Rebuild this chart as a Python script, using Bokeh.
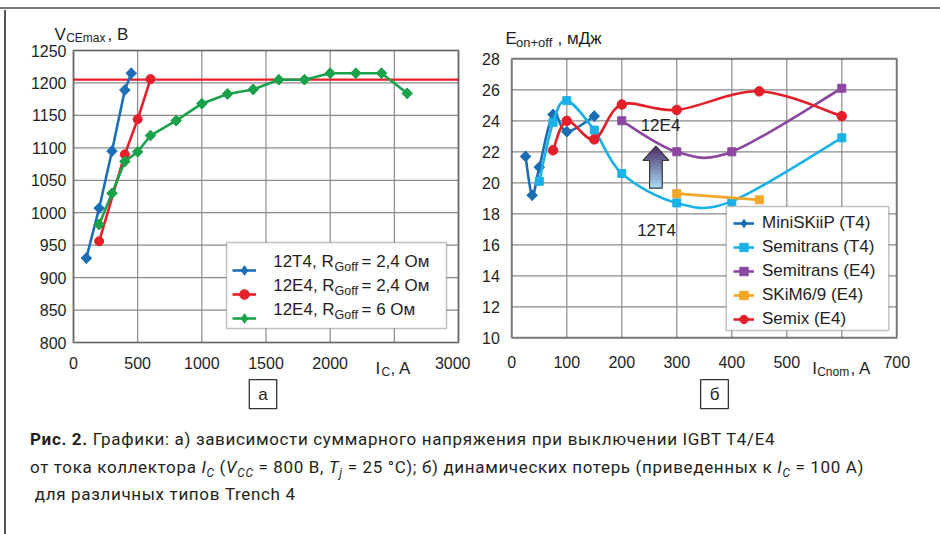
import numpy as np
from bokeh.plotting import figure
from bokeh.models import (Range1d, Label, Legend, LegendItem, Div, LinearAxis,
                          FixedTicker, BoxAnnotation)
from bokeh.layouts import row, column
from bokeh.embed import file_html
from bokeh.resources import INLINE

# ---------------- data: chart a ----------------
ic_12t4 = [100, 200, 300, 400, 450]
v_12t4 = [930, 1007, 1095, 1189, 1215]
ic_12e4_24 = [200, 400, 500, 600]
v_12e4_24 = [956, 1090, 1144, 1206]
ic_12e4_6 = [200, 300, 400, 500, 600, 800, 1000, 1200, 1400, 1600, 1800, 2000, 2200, 2400, 2600]
v_12e4_6 = [982, 1030, 1079, 1094, 1119, 1142, 1168, 1183, 1190, 1205, 1205, 1215, 1215, 1215, 1184]
v_limit = 1205
a_x_ticks = [0, 500, 1000, 1500, 2000, 2500, 3000]
a_y_ticks = [800, 850, 900, 950, 1000, 1050, 1100, 1150, 1200, 1250]
a_legend_main = ["12T4, R", "12E4, R", "12E4, R"]
a_legend_sub = ["Goff", "Goff", "Goff"]
a_legend_rest = ["= 2,4 Ом", "= 2,4 Ом", "= 6 Ом"]

# ---------------- data: chart б ----------------
inom_minis = [25, 37, 50, 75, 100, 150]
e_minis = [21.7, 19.2, 21.0, 24.4, 23.3, 24.3]
inom_st4 = [50, 75, 100, 150, 200, 300, 400, 600]
e_st4 = [20.1, 23.9, 25.3, 23.4, 20.6, 18.7, 18.8, 22.9]
inom_se4 = [200, 300, 400, 600]
e_se4 = [24.0, 22.0, 22.0, 26.1]
inom_skim = [300, 450]
e_skim = [19.3, 18.9]
inom_semix = [75, 100, 150, 200, 300, 450, 600]
e_semix = [22.1, 24.0, 22.8, 25.05, 24.7, 25.9, 24.3]
b_x_ticks = [0, 100, 200, 300, 400, 500, 600, 700]
b_y_ticks = [10, 12, 14, 16, 18, 20, 22, 24, 26, 28]
b_names = ["MiniSKiiP (T4)", "Semitrans (T4)", "Semitrans (E4)", "SKiM6/9 (E4)", "Semix (E4)"]

FONT = "Liberation Sans"
TXT = "#1e1e1e"
GRID = "#8a8a8a"


def smooth(xs, ys):
    x = np.asarray(xs, float)
    y = np.asarray(ys, float)
    n = len(x)
    xp = np.concatenate([[x[0]], x, [x[-1]]])
    yp = np.concatenate([[y[0]], y, [y[-1]]])
    i = np.arange(n - 1)
    return dict(
        x0=xp[i + 1], y0=yp[i + 1], x1=xp[i + 2], y1=yp[i + 2],
        cx0=xp[i + 1] + (xp[i + 2] - xp[i]) / 6, cy0=yp[i + 1] + (yp[i + 2] - yp[i]) / 6,
        cx1=xp[i + 2] - (xp[i + 3] - xp[i + 1]) / 6, cy1=yp[i + 2] - (yp[i + 3] - yp[i + 1]) / 6,
    )


def make_fig(page_box, canvas, xr, yr, xt, yt, xover, xstand, ystand):
    """Figure whose frame is the whole canvas; the chart box (page_box) is drawn inside it."""
    L, R, T, B = page_box
    ox, oy, w, h = canvas
    kx = (xr[1] - xr[0]) / (R - L)
    ky = (yr[1] - yr[0]) / (B - T)
    p = figure(width=w, height=h,
               x_range=Range1d(xr[0] + (ox - L) * kx, xr[0] + (ox + w - L) * kx),
               y_range=Range1d(yr[0] + (B - oy - h) * ky, yr[0] + (B - oy) * ky),
               x_axis_type=None, y_axis_type=None, min_border=0,
               output_backend="svg", toolbar_location=None, outline_line_color=None,
               background_fill_color="white", border_fill_color="white")

    def to_data(px, py):
        return xr[0] + (px - L) * kx, yr[0] + (B - py) * ky

    # grid lines from the tick lists, limited to the chart box
    p.segment(x0=xt, y0=[yr[0]] * len(xt), x1=xt, y1=[yr[1]] * len(xt),
              line_color=GRID, line_width=1.2, level="image")
    p.segment(x0=[xr[0]] * len(yt), y0=yt, x1=[xr[1]] * len(yt), y1=yt,
              line_color=GRID, line_width=1.2, level="image")
    common = dict(axis_line_color=None, major_tick_line_color=None, minor_tick_line_color=None,
                  major_tick_in=0, major_tick_out=0, major_label_text_font=FONT,
                  major_label_text_font_size="16px", major_label_text_color=TXT)
    xa = LinearAxis(fixed_location=yr[0], ticker=FixedTicker(ticks=xt), bounds=(xr[0], xr[1]),
                    major_label_overrides={xover: ""}, major_label_standoff=xstand, **common)
    ya = LinearAxis(fixed_location=xr[0], ticker=FixedTicker(ticks=yt), bounds=(yr[0], yr[1]),
                    major_label_standoff=ystand, **common)
    p.add_layout(xa, "below")
    p.add_layout(ya, "left")
    p.add_layout(BoxAnnotation(left=xr[0], right=xr[1], bottom=yr[0], top=yr[1],
                               fill_color=None, line_color="#1a1a1a", line_width=2.5))
    return p, to_data


def lab(p, to_data, text, px, py, size, align="left", baseline="alphabetic", **kw):
    x, y = to_data(px, py)
    p.add_layout(Label(x=x, y=y, text=text, level="overlay",
                       text_font=FONT, text_font_size=f"{size}px", text_color=TXT,
                       text_align=align, text_baseline=baseline, **kw))


def legend_box(p, to_data, l, t, r, b):
    bl, bt = to_data(l, t)
    br, bb = to_data(r, b)
    p.add_layout(BoxAnnotation(left=bl, right=br, top=bt, bottom=bb, level="underlay",
                               fill_color="white", fill_alpha=1, line_color="#333333",
                               line_width=1.5))


# ================= chart a =================
p1, d1 = make_fig((73, 458, 50, 342), (6, 10, 464, 405), (0, 3000), (800, 1250),
                  a_x_ticks, a_y_ticks, 2500, 14, 7)

p1.line([a_x_ticks[0], a_x_ticks[-1]], [v_limit, v_limit], line_color="#e5202b", line_width=2.2)

c_blue, c_red, c_green = "#1c6fb7", "#e5202b", "#19a24a"
l1 = p1.line(ic_12t4, v_12t4, line_color=c_blue, line_width=2.6)
m1 = p1.scatter(ic_12t4, v_12t4, marker="diamond", size=10.5, color=c_blue)
p1.scatter(ic_12t4, v_12t4, marker="square", angle=np.pi / 4, size=7.5, color=c_blue)
l2 = p1.line(ic_12e4_24, v_12e4_24, line_color=c_red, line_width=2.6)
m2 = p1.scatter(ic_12e4_24, v_12e4_24, marker="circle", size=9, color=c_red)
l3 = p1.line(ic_12e4_6, v_12e4_6, line_color=c_green, line_width=2.6)
m3 = p1.scatter(ic_12e4_6, v_12e4_6, marker="diamond", size=10.5, color=c_green)
p1.scatter(ic_12e4_6, v_12e4_6, marker="square", angle=np.pi / 4, size=7.5, color=c_green)

legend_box(p1, d1, 226, 242, 446, 328)
leg1 = Legend(items=[LegendItem(label=" ", renderers=[l1, m1]),
                     LegendItem(label=" ", renderers=[l2, m2]),
                     LegendItem(label=" ", renderers=[l3, m3])],
              location=(226, 85), padding=7, spacing=0, label_height=24, glyph_height=24,
              glyph_width=24, label_standoff=10, label_width=150, margin=0,
              border_line_color=None, background_fill_color=None, background_fill_alpha=0,
              label_text_font_size="16px")
p1.add_layout(leg1)
for k in range(3):
    yy = 261 + 24 * k
    lab(p1, d1, a_legend_main[k], 272.7, yy, 17, baseline="middle")
    lab(p1, d1, a_legend_sub[k], 334, yy + 5, 12.5, baseline="middle")
    lab(p1, d1, a_legend_rest[k], 361, yy, 17, baseline="middle")

lab(p1, d1, "V", 54, 33.5, 17)
lab(p1, d1, "CEmax", 65.7, 37.5, 12)
lab(p1, d1, ", В", 107, 33.5, 17)
lab(p1, d1, "I", 375, 368.3, 17)
lab(p1, d1, "C", 381, 371.7, 12)
lab(p1, d1, ", A", 390, 368.3, 17)
lab(p1, d1, "а", 262.5, 393.7, 17, align="center", baseline="middle",
    border_line_color="#333333", border_line_width=1.3, background_fill_color="white",
    padding=(9, 5))

# ================= chart б =================
p2, d2 = make_fig((511.3, 896.3, 58.3, 337.3), (470, 10, 470, 405), (0, 700), (10, 28),
                  b_x_ticks, b_y_ticks, 600, 18, 12)

cols = ["#1a6db3", "#1ab1e6", "#8b47a0", "#f4a624", "#e51f2a"]
series = [(inom_minis, e_minis, "diamond"), (inom_st4, e_st4, "square"),
          (inom_se4, e_se4, "square"), (inom_skim, e_skim, "square"),
          (inom_semix, e_semix, "circle")]

# gradient arrow annotation (12T4 -> 12E4)
AX, ATOP, ANECK, ABOT, AHEAD, ASHAFT = 262.0, 22.36, 21.44, 19.66, 23.5, 11.5
top_rgb = np.array([0x48, 0x26, 0x66])
bot_rgb = np.array([0xa8, 0xdc, 0xf5])
nh, ns = 6, 16
ys_edges = np.concatenate([np.linspace(ATOP, ANECK, nh + 1), np.linspace(ANECK, ABOT, ns + 1)[1:]])


def halfw(yv):
    return AHEAD * (ATOP - yv) / (ATOP - ANECK) if yv > ANECK + 1e-9 else ASHAFT


sx, sy, sc = [], [], []
for j in range(len(ys_edges) - 1):
    ya, yb = ys_edges[j], ys_edges[j + 1]
    wa = halfw(ya) if j < nh else ASHAFT
    wb = AHEAD if j == nh - 1 else halfw(yb)
    sx.append([AX - wa, AX + wa, AX + wb, AX - wb])
    sy.append([ya, ya, yb, yb])
    t = (ATOP - (ya + yb) / 2) / (ATOP - ABOT)
    rgb = (top_rgb + (bot_rgb - top_rgb) * t).astype(int)
    sc.append("#%02x%02x%02x" % tuple(rgb))
p2.patches(sx, sy, fill_color=sc, line_color=sc, line_width=0.6)
p2.patch([AX, AX + AHEAD, AX + ASHAFT, AX + ASHAFT, AX - ASHAFT, AX - ASHAFT, AX - AHEAD, AX],
         [ATOP, ANECK, ANECK, ABOT, ABOT, ANECK, ANECK, ATOP],
         fill_color=None, line_color="#3a3a3a", line_width=1.2)

items = []
for (xs, ys, mk), c, nm in zip(series, cols, b_names):
    if len(xs) > 2:
        r_line = p2.bezier(line_color=c, line_width=2.6, **smooth(xs, ys))
    else:
        r_line = p2.line(xs, ys, line_color=c, line_width=2.6)
    if mk == "diamond":
        r_pt = p2.scatter(xs, ys, marker="diamond", size=10.5, color=c)
        p2.scatter(xs, ys, marker="square", angle=np.pi / 4, size=7.5, color=c)
    elif mk == "square":
        r_pt = p2.scatter(xs, ys, marker="square", size=8, color=c)
    else:
        r_pt = p2.scatter(xs, ys, marker="circle", size=9.5, color=c)
    items.append(LegendItem(label=nm, renderers=[r_line, r_pt]))

legend_box(p2, d2, 725.7, 206, 888.3, 330)
leg2 = Legend(items=items, location=(263, 84), padding=2, spacing=0, label_height=24,
              glyph_height=24, glyph_width=21, label_standoff=8, label_width=118, margin=0,
              border_line_color=None, background_fill_color=None, background_fill_alpha=0,
              label_text_font=FONT, label_text_font_size="17px", label_text_color=TXT,
              label_text_line_height=1.0)
p2.add_layout(leg2)

lab(p2, d2, "12E4", 660, 125, 17, align="center", baseline="middle")
lab(p2, d2, "12T4", 656, 230, 17, align="center", baseline="middle")

lab(p2, d2, "E", 505, 37.7, 17)
lab(p2, d2, "on+off", 515.5, 41.7, 13)
lab(p2, d2, ", мДж", 557, 37.7, 17)
lab(p2, d2, "I", 811.7, 368.3, 17)
lab(p2, d2, "Cnom", 816.7, 371.7, 12)
lab(p2, d2, ", A", 850, 368.3, 17)
lab(p2, d2, "б", 714, 393.7, 17, align="center", baseline="middle",
    border_line_color="#333333", border_line_width=1.3, background_fill_color="white",
    padding=(9, 5))

# ================= page frame and caption =================
top = Div(width=940, height=2, margin=(7, 0, 1, 0), styles={"background-color": "#7a7a7a"})
vline = Div(width=2, height=524, margin=(0, 0, 0, 4), styles={"background-color": "#555555"})

sub = 'style="font-size:70%;line-height:0;vertical-align:-0.3em"'
cap_html = (
    '<div style="font-family:Roboto,\'Liberation Sans\',sans-serif;font-size:17px;'
    'letter-spacing:0.65px;line-height:27.5px;color:#231f20;padding:11px 0 0 24px;white-space:nowrap">'
    '<b>Рис. 2.</b> Графики: а) зависимости суммарного напряжения при выключении IGBT T4/E4<br>'
    f'от тока коллектора <i>I</i><sub {sub}><i>C</i></sub> (<i>V</i><sub {sub}><i>CC</i></sub> = 800 В, '
    f'<i>T</i><sub {sub}><i>j</i></sub> = 25 °C); б) динамических потерь (приведенных к '
    f'<i>I</i><sub {sub}><i>C</i></sub> = 100 А)<br>'
    '&nbsp;для различных типов Trench 4</div>'
)
cap = Div(width=934, height=119, margin=0, text=cap_html)

layout = column(top, row(vline, column(row(column(p1), column(p2)), cap)))

open("out.html", "w").write(file_html(layout, INLINE))
